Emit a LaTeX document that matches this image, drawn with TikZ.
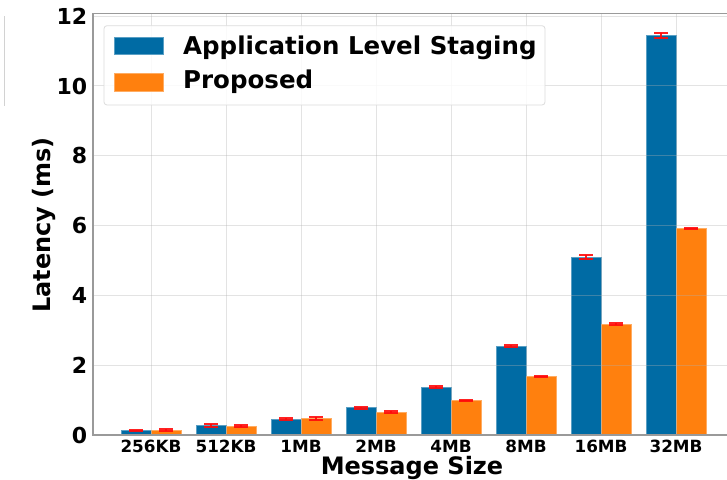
\documentclass[tikz,border=0pt]{standalone}
\usepackage{fontspec}
\setmainfont{DejaVu Sans}
\definecolor{stageblue}{HTML}{006BA4}
\definecolor{proporange}{HTML}{FF800E}
\definecolor{errred}{HTML}{FF0A0A}
\definecolor{spinegray}{HTML}{9A9A9A}
\definecolor{gridgray}{HTML}{B0B0B0}
\definecolor{framegray}{HTML}{DCDCDC}
\tikzset{
  spine/.style={draw=spinegray, line width=1.3pt},
  gridline/.style={draw=gridgray, line width=1pt, opacity=0.35},
  barA/.style={fill=stageblue, draw=stageblue!65!white, line width=0.6pt},
  barB/.style={fill=proporange, draw=proporange!65!white, line width=0.6pt},
  errbar/.style={draw=errred, line width=2pt, opacity=0.9},
  ticklab/.style={font=\bfseries\fontsize{22}{22}\selectfont, inner sep=0pt},
  xticklab/.style={font=\bfseries\fontsize{16.8}{17}\selectfont, inner sep=0pt},
  axlab/.style={font=\bfseries\fontsize{24}{24}\selectfont, inner sep=0pt},
  legtext/.style={font=\bfseries\fontsize{24.5}{24.5}\selectfont, inner sep=0pt, anchor=base west},
}
\begin{document}
\begin{tikzpicture}[x=1pt, y=1pt]
\useasboundingbox (0,0) rectangle (727,479);
\fill[white] (0,0) rectangle (727,479);
% stray frame edge at the far left
\draw[gray!35, line width=0.8pt] (4,373) -- (4,463);

% plotting area: x in pixels, y in milliseconds
\begin{scope}[shift={(0,44)}, x=1pt, y=34.9pt]
  % bars with error bars
  \foreach \lab/\b/\eb/\o/\eo [count=\i from 0] in {
      256KB/0.123/0.01/0.14/0.02,
      512KB/0.27/0.05/0.26/0.02,
      1MB/0.45/0.03/0.475/0.04,
      2MB/0.78/0.03/0.655/0.03,
      4MB/1.375/0.03/0.99/0.02,
      8MB/2.55/0.02/1.67/0.02,
      16MB/5.09/0.06/3.18/0.02,
      32MB/11.44/0.07/5.92/0.02} {
    \pgfmathsetmacro{\c}{151+75*\i}
    \fill[barA] (\c-30,0) rectangle (\c,\b);
    \fill[barB] (\c,0) rectangle (\c+30,\o);
    \draw[barA, fill=none, draw opacity=0.8] (\c-30,0) -- (\c-30,\b) -- (\c,\b) -- (\c,0);
    \draw[barB, fill=none, draw opacity=0.8] (\c,0) -- (\c,\o) -- (\c+30,\o) -- (\c+30,0);
    % error bars
    \draw[errbar] (\c-15,\b-\eb) -- (\c-15,\b+\eb);
    \draw[errbar] (\c-22,\b-\eb) -- (\c-8,\b-\eb);
    \draw[errbar] (\c-22,\b+\eb) -- (\c-8,\b+\eb);
    \draw[errbar] (\c+15,\o-\eo) -- (\c+15,\o+\eo);
    \draw[errbar] (\c+8,\o-\eo) -- (\c+22,\o-\eo);
    \draw[errbar] (\c+8,\o+\eo) -- (\c+22,\o+\eo);
    % category label
    \node[xticklab, anchor=base] (xt\i) at (\c,-0.49) {\lab};
  }
  % grid drawn over the bars
  \foreach \i in {0,...,7} {
    \draw[gridline] (151+75*\i,0) -- (151+75*\i,12.08);
  }
  \foreach \v in {2,4,...,12} {
    \draw[gridline] (93,\v) -- (727,\v);
  }
  % value axis labels
  \foreach \v in {0,2,...,12} {
    \node[ticklab, anchor=east] (yt\v) at (87.5,\v) {\v};
  }
  % spines
  \draw[spine] (93,12.08) -- (93,0) -- (727,0);
  \draw[spine] (93,12.08) -- (727,12.08);
\end{scope}

% axis titles
\node[axlab, anchor=base] (xtitle) at (412,4.7) {Message Size};
\node[axlab, rotate=90, anchor=base] (ytitle) at (50,254) {Latency (ms)};

% legend
\draw[framegray, fill=white, fill opacity=0.85, line width=0.8pt, rounded corners=3pt]
  (104,374) rectangle (545,453.3);
\fill[barA] (114,425) rectangle (163,441.7);
\fill[barB] (114,388) rectangle (163,405.7);
\node[legtext] (legA) at (183,424.7) {Application Level Staging};
\node[legtext] (legB) at (183,390) {Proposed};
\end{tikzpicture}
\end{document}
